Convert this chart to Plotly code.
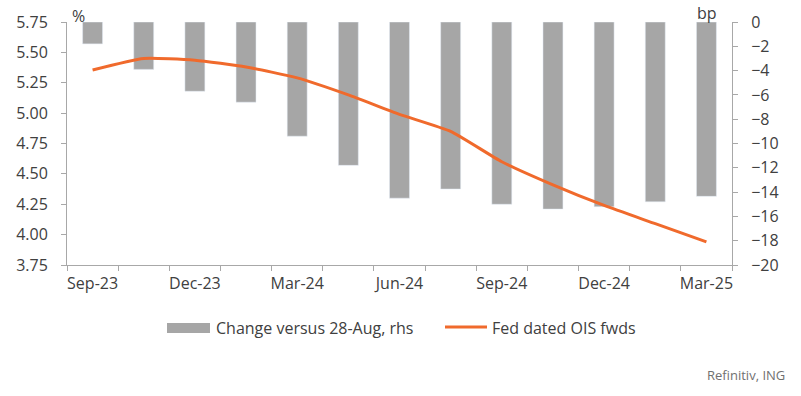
import plotly.graph_objects as go

# FOMC meeting dates (categories)
categories = ["Sep-23", "Nov-23", "Dec-23", "Jan-24", "Mar-24", "May-24", "Jun-24",
              "Jul-24", "Sep-24", "Nov-24", "Dec-24", "Jan-25", "Mar-25"]
tick_labels = ["Sep-23", "", "Dec-23", "", "Mar-24", "", "Jun-24",
               "", "Sep-24", "", "Dec-24", "", "Mar-25"]
change_bp = [-1.8, -3.9, -5.7, -6.6, -9.4, -11.8, -14.5,
             -13.75, -15.0, -15.4, -15.2, -14.8, -14.35]
ois_fwds = [5.355, 5.45, 5.435, 5.38, 5.29, 5.15, 4.99,
            4.85, 4.60, 4.41, 4.24, 4.09, 3.94]

TXT = "#404040"
AX = "#A8A8A8"
GREY = "#A6A6A6"
ORANGE = "#F06A2C"
FONT = "Open Sans"
FS = 16

fig = go.Figure()
fig.add_trace(go.Bar(x=categories, y=change_bp, marker_color=GREY, width=0.39,
                     name="Change versus 28-Aug, rhs", yaxis="y", showlegend=False))
fig.add_trace(go.Scatter(x=categories, y=ois_fwds, mode="lines",
                         line=dict(color=ORANGE, width=3, shape="spline", smoothing=0.5),
                         name="Fed dated OIS fwds", yaxis="y2", showlegend=False))

L, R, T, B = 67, 732, 22, 265
W, H = 801, 396
pw, ph = R - L, B - T

def px(x):
    return (x - L) / pw

def py(y):
    return (B - y) / ph

fig.update_layout(
    width=W, height=H,
    margin=dict(l=L, r=W - R, t=T, b=H - B, pad=0),
    paper_bgcolor="white", plot_bgcolor="white",
    font=dict(family=FONT, size=FS, color=TXT),
    xaxis=dict(type="category", tickmode="array", tickvals=categories, ticktext=tick_labels,
               tickson="boundaries", ticks="outside", ticklen=5, tickcolor=AX,
               tickangle=0, showline=True, linecolor=AX, linewidth=1, showgrid=False,
               ticklabelstandoff=4,
               range=[-0.5, 12.5], tickfont=dict(size=FS, color=TXT)),
    yaxis=dict(side="right", range=[-20, 0], dtick=2, tick0=0, showgrid=False,
               zeroline=False, showline=True, linecolor=AX, linewidth=1,
               ticks="outside", ticklen=5, tickcolor=AX, ticklabelstandoff=10,
               tickfont=dict(size=FS, color=TXT)),
    yaxis2=dict(side="left", overlaying="y", range=[3.75, 5.75], dtick=0.25, tick0=3.75,
                tickformat=".2f", showgrid=False, zeroline=False, showline=True,
                linecolor=AX, linewidth=1, ticks="outside", ticklen=5, tickcolor=AX,
                ticklabelstandoff=10, tickfont=dict(size=FS, color=TXT)),
)

# unit labels
fig.add_annotation(text="%", x=px(78), y=py(16), xref="paper", yref="paper",
                   xanchor="center", yanchor="middle",
                   showarrow=False, font=dict(size=FS, color=TXT))
fig.add_annotation(text="bp", x=px(707), y=py(0.5), xref="paper", yref="paper",
                   xanchor="center", yanchor="top",
                   showarrow=False, font=dict(size=FS, color=TXT))

# custom legend
fig.add_shape(type="rect", xref="paper", yref="paper",
              x0=px(167), x1=px(210), y0=py(333), y1=py(323),
              fillcolor=GREY, line=dict(width=0))
fig.add_annotation(text="Change versus 28-Aug, rhs", x=px(214), y=py(328),
                   xref="paper", yref="paper", xanchor="left", yanchor="middle",
                   showarrow=False, font=dict(size=FS, color=TXT))
fig.add_shape(type="line", xref="paper", yref="paper",
              x0=px(445), x1=px(487), y0=py(327), y1=py(327),
              line=dict(color=ORANGE, width=3))
fig.add_annotation(text="Fed dated OIS fwds", x=px(490), y=py(328),
                   xref="paper", yref="paper", xanchor="left", yanchor="middle",
                   showarrow=False, font=dict(size=FS, color=TXT))

# source
fig.add_annotation(text="Refinitiv, ING", x=px(787), y=py(375),
                   xref="paper", yref="paper", xanchor="right", yanchor="middle",
                   showarrow=False, font=dict(size=13, color="#707070"))

fig.write_html("out.html", config={"displayModeBar": False},
               post_script="document.body.style.margin='0';")
